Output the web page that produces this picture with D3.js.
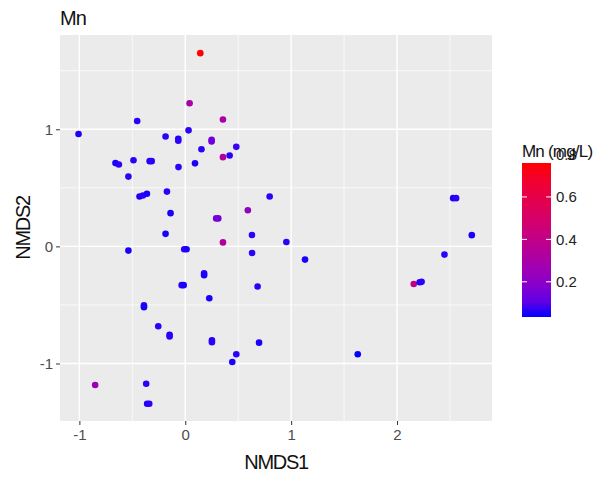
<!DOCTYPE html>
<html>
<head>
<meta charset="utf-8">
<script src="https://cdn.jsdelivr.net/npm/d3@7"></script>
<style>
  html, body { margin: 0; padding: 0; background: #fff; }
  text { font-family: "Liberation Sans", Arial, sans-serif; }
</style>
</head>
<body>
<div id="chart"></div>
<script>
// NMDS scores per sample, with Mn concentration (mg/L)
const nmds1 = [0.142, 0.041, 0.356, -0.454, -1.008, -0.186, -0.066, -0.066, 0.031, 0.249,
  0.249, 0.482, 0.153, 0.356, 0.419, -0.659, -0.627, -0.489, -0.336, -0.317,
  -0.064, 0.092, -0.537, -0.432, -0.400, -0.362, -0.173, 0.797, -0.139, 0.292,
  0.312, 0.591, -0.186, 0.630, 0.356, 0.955, -0.537, -0.010, 0.012, 0.631,
  1.131, 0.178, 0.178, -0.034, -0.015, 0.683, 0.227, -0.390, -0.390, -0.255,
  -0.148, -0.148, 0.252, 0.252, 0.697, 0.482, 0.444, -0.851, -0.369, -0.360,
  -0.340, 2.530, 2.558, 2.706, 2.448, 2.158, 2.214, 2.232, 1.629];
const nmds2 = [1.650, 1.222, 1.083, 1.071, 0.960, 0.938, 0.919, 0.902, 0.991, 0.910,
  0.895, 0.850, 0.829, 0.762, 0.776, 0.711, 0.699, 0.735, 0.728, 0.728,
  0.677, 0.709, 0.596, 0.426, 0.434, 0.449, 0.468, 0.426, 0.284, 0.239,
  0.239, 0.309, 0.107, 0.097, 0.034, 0.037, -0.036, -0.024, -0.024, -0.057,
  -0.113, -0.230, -0.246, -0.331, -0.331, -0.342, -0.443, -0.503, -0.519, -0.682,
  -0.754, -0.770, -0.802, -0.818, -0.822, -0.921, -0.987, -1.184, -1.173, -1.344,
  -1.344, 0.412, 0.412, 0.096, -0.070, -0.321, -0.306, -0.303, -0.921];
const mn = [0.76, 0.29, 0.30, 0.05, 0.04, 0.05, 0.04, 0.05, 0.05, 0.15,
  0.13, 0.06, 0.05, 0.33, 0.05, 0.04, 0.05, 0.05, 0.04, 0.05,
  0.05, 0.04, 0.05, 0.04, 0.05, 0.04, 0.05, 0.05, 0.04, 0.13,
  0.15, 0.22, 0.04, 0.05, 0.33, 0.05, 0.04, 0.05, 0.04, 0.05,
  0.04, 0.05, 0.04, 0.05, 0.04, 0.05, 0.04, 0.05, 0.04, 0.05,
  0.04, 0.05, 0.04, 0.05, 0.04, 0.05, 0.04, 0.25, 0.05, 0.04,
  0.05, 0.04, 0.05, 0.04, 0.05, 0.40, 0.04, 0.05, 0.034];

const xTicks = [-1, 0, 1, 2];
const yTicks = [-1, 0, 1];
const legendTicks = [0.2, 0.4, 0.6, 0.8];

const width = 612, height = 478;
const panel = { left: 60, top: 35, right: 492, bottom: 421 };

const svg = d3.select("#chart").append("svg")
  .attr("width", width)
  .attr("height", height);

// scales (limits)
const x = d3.scaleLinear().domain([-1.183, 2.897]).range([panel.left, panel.right]);
const y = d3.scaleLinear().domain([-1.491, 1.805]).range([panel.bottom, panel.top]);
const mnExtent = [0.034, 0.76];
const color = d3.scaleLinear().domain(mnExtent).range(["blue", "red"]).interpolate(d3.interpolateLab);

// panel background
svg.append("rect")
  .attr("x", panel.left).attr("y", panel.top)
  .attr("width", panel.right - panel.left)
  .attr("height", panel.bottom - panel.top)
  .attr("fill", "#EBEBEB");

// minor grid
const xMinor = [-0.5, 0.5, 1.5, 2.5];
const yMinor = [-0.5, 0.5, 1.5];
svg.append("g").selectAll("line").data(xMinor).join("line")
  .attr("x1", d => x(d)).attr("x2", d => x(d))
  .attr("y1", panel.top).attr("y2", panel.bottom)
  .attr("stroke", "#fff").attr("stroke-width", 0.7);
svg.append("g").selectAll("line").data(yMinor).join("line")
  .attr("y1", d => y(d)).attr("y2", d => y(d))
  .attr("x1", panel.left).attr("x2", panel.right)
  .attr("stroke", "#fff").attr("stroke-width", 0.7);

// major grid
svg.append("g").selectAll("line").data(xTicks).join("line")
  .attr("x1", d => x(d)).attr("x2", d => x(d))
  .attr("y1", panel.top).attr("y2", panel.bottom)
  .attr("stroke", "#fff").attr("stroke-width", 1.4);
svg.append("g").selectAll("line").data(yTicks).join("line")
  .attr("y1", d => y(d)).attr("y2", d => y(d))
  .attr("x1", panel.left).attr("x2", panel.right)
  .attr("stroke", "#fff").attr("stroke-width", 1.4);

// points
const points = nmds1.map((v, i) => ({ x: v, y: nmds2[i], mn: mn[i] }));
svg.append("g").selectAll("circle").data(points).join("circle")
  .attr("cx", d => x(d.x))
  .attr("cy", d => y(d.y))
  .attr("r", 3.3)
  .attr("fill", d => color(d.mn));

// axes (plain hyphen for negatives, as in the original)
const xAxis = svg.append("g")
  .attr("transform", `translate(0,${panel.bottom})`)
  .call(d3.axisBottom(x).tickValues(xTicks).tickSize(4).tickPadding(4).tickFormat(d => String(d)));
const yAxis = svg.append("g")
  .attr("transform", `translate(${panel.left},0)`)
  .call(d3.axisLeft(y).tickValues(yTicks).tickSize(4).tickPadding(3).tickFormat(d => String(d)));
[xAxis, yAxis].forEach(g => {
  g.select(".domain").remove();
  g.selectAll(".tick line").attr("stroke", "#333").attr("stroke-width", 1);
  g.selectAll(".tick text")
    .attr("fill", "#4D4D4D")
    .style("font-family", "'Liberation Sans', Arial, sans-serif")
    .style("font-size", "15px");
});
yAxis.selectAll(".tick text").attr("dy", "0.35em");

// title and axis titles
svg.append("text")
  .attr("x", panel.left).attr("y", 25)
  .style("font-size", "20px").style("letter-spacing", "-1px")
  .attr("fill", "#111")
  .text("Mn");
svg.append("text")
  .attr("x", (panel.left + panel.right) / 2).attr("y", 469)
  .attr("text-anchor", "middle")
  .style("font-size", "20px").style("letter-spacing", "-1.3px")
  .attr("fill", "#111")
  .text("NMDS1");
svg.append("text")
  .attr("transform", `translate(30,${(panel.top + panel.bottom) / 2}) rotate(-90)`)
  .attr("text-anchor", "middle")
  .style("font-size", "20px").style("letter-spacing", "-1.3px")
  .attr("fill", "#111")
  .text("NMDS2");

// colour bar legend
const bar = { x: 522, w: 29, top: 163, bottom: 317 };
const legendY = d3.scaleLinear().domain(mnExtent).range([bar.bottom, bar.top]);
const defs = svg.append("defs");
const grad = defs.append("linearGradient")
  .attr("id", "mnGrad")
  .attr("x1", 0).attr("x2", 0).attr("y1", 1).attr("y2", 0);
d3.range(0, 1.0001, 0.1).forEach(t => {
  grad.append("stop")
    .attr("offset", t)
    .attr("stop-color", color(mnExtent[0] + t * (mnExtent[1] - mnExtent[0])));
});
svg.append("rect")
  .attr("x", bar.x).attr("y", bar.top)
  .attr("width", bar.w).attr("height", bar.bottom - bar.top)
  .attr("fill", "url(#mnGrad)");

const inBar = legendTicks.filter(d => d >= mnExtent[0] && d <= mnExtent[1]);
svg.append("g").selectAll("line.l").data(inBar).join("line")
  .attr("x1", bar.x).attr("x2", bar.x + 5)
  .attr("y1", d => legendY(d)).attr("y2", d => legendY(d))
  .attr("stroke", "#fff").attr("stroke-width", 1);
svg.append("g").selectAll("line.r").data(inBar).join("line")
  .attr("x1", bar.x + bar.w - 5).attr("x2", bar.x + bar.w)
  .attr("y1", d => legendY(d)).attr("y2", d => legendY(d))
  .attr("stroke", "#fff").attr("stroke-width", 1);
svg.append("g").selectAll("text").data(legendTicks).join("text")
  .attr("x", bar.x + bar.w + 5)
  .attr("y", d => legendY(d))
  .attr("dy", "0.35em")
  .style("font-size", "15px")
  .attr("fill", "#222")
  .text(d => d3.format(".1f")(d));

svg.append("text")
  .attr("x", bar.x).attr("y", 157)
  .style("font-size", "17px").style("letter-spacing", "-0.8px")
  .attr("fill", "#111")
  .text("Mn (mg/L)");
</script>
</body>
</html>
